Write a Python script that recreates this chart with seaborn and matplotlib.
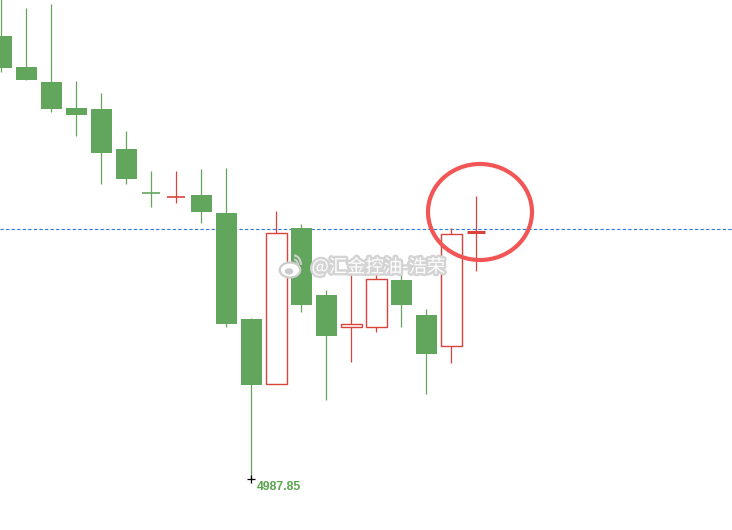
import numpy as np
import pandas as pd
import matplotlib
matplotlib.use('Agg')
import matplotlib.pyplot as plt
import matplotlib.patheffects as pe
from matplotlib.patches import Ellipse, Arc
import seaborn as sns

# OHLC (price units, last 20 bars)
opens = [5209.35, 5193.85, 5186.35, 5173.35, 5172.85, 5152.85, 5131.35, 5128.85, 5129.85, 5120.85,
         5067.85, 5035.35, 5113.35, 5079.85, 5063.85, 5063.85, 5087.35, 5069.85, 5054.35, 5111.35]
highs = [5232.35, 5223.35, 5225.35, 5186.85, 5180.85, 5161.85, 5141.85, 5141.85, 5142.85, 5143.35,
         5068.35, 5121.85, 5115.35, 5082.35, 5096.35, 5090.35, 5090.85, 5072.85, 5113.35, 5129.35]
lows = [5191.35, 5187.35, 5171.35, 5159.35, 5135.35, 5135.35, 5123.85, 5125.85, 5115.85, 5063.85,
        4987.85, 5035.35, 5071.35, 5027.35, 5046.35, 5061.35, 5063.85, 5030.35, 5045.85, 5091.85]
closes = [5193.35, 5187.35, 5172.85, 5169.85, 5150.85, 5137.85, 5130.35, 5129.35, 5121.35, 5065.35,
          5034.85, 5110.85, 5074.85, 5059.35, 5065.35, 5087.85, 5074.85, 5050.35, 5110.35, 5111.85]
last_price = 5112.85
low_label = "4987.85"
watermark = "@汇金控油-浩荣"

GREEN = '#62a65d'
RED = '#d9433b'

df = pd.DataFrame({'open': opens, 'high': highs, 'low': lows, 'close': closes})
df['i'] = np.arange(len(df))
df['up'] = df['close'] >= df['open']

sns.set_style('white')
plt.rcParams['font.family'] = ['Noto Sans CJK SC', 'DejaVu Sans']

fig = plt.figure(figsize=(7.32, 5.30), dpi=100)
ax = fig.add_axes([0, 0, 1, 1])
ax.set_xlim(-0.04, 29.24)
ax.set_ylim(4962.35, 5227.35)
ax.axis('off')

width = 0.84
lw = 0.9

# wicks
for _, r in df.iterrows():
    col = RED if r['up'] else GREEN
    ax.vlines(r['i'], r['low'], r['high'], color=col, linewidth=lw, zorder=2)

# bodies
for _, r in df.iterrows():
    top, bot = max(r['open'], r['close']), min(r['open'], r['close'])
    h = top - bot
    col = RED if r['up'] else GREEN
    if h < 1.2:
        lwd = 2.2 if r['i'] == len(df) - 1 else 1.2
        ax.hlines((top + bot) / 2, r['i'] - width / 2 + 0.05, r['i'] + width / 2 - 0.05,
                  color=col, linewidth=lwd, zorder=3)
    elif r['up']:
        ax.bar(r['i'], h, bottom=bot, width=width, facecolor='white', edgecolor=col,
               linewidth=1.0, zorder=3)
    else:
        ax.bar(r['i'], h, bottom=bot, width=width, color=col, linewidth=0, zorder=3)

# last price line
sns.lineplot(x=[-0.04, 29.24], y=[last_price, last_price], ax=ax, color='#2a7ae2',
             linewidth=0.8, linestyle=(0, (3, 2)), zorder=1)

# low marker and label
low_idx = int(np.argmin(lows))
ax.plot(low_idx, lows[low_idx], marker='+', color='black', markersize=6, markeredgewidth=0.9, zorder=4)
ax.text(low_idx + 0.22, lows[low_idx] - 4, low_label, color='#5aa64f', fontsize=8.8,
        fontweight='bold', family=['Liberation Sans', 'DejaVu Sans'], ha='left', va='center')

# highlight circle around last bar
ax.add_patch(Ellipse((19.16, 5121.35), 4.16, 48, fill=False, edgecolor='#f25555',
                     linewidth=3, zorder=5))

# watermark (weibo style)
wm_y = 5227.35 - 133.5
shadow = [pe.withStroke(linewidth=3.5, foreground='#d4d4d4')]
ax.text(12.42, wm_y, watermark, color='white', fontsize=13.2, ha='left', va='center',
        path_effects=shadow, zorder=6)
ax.add_patch(Ellipse((11.56, wm_y - 1.5), 0.82, 7.5, facecolor='white', edgecolor='#cccccc',
                     linewidth=1.6, zorder=6))
ax.add_patch(Ellipse((11.52, wm_y - 2.2), 0.34, 3.2, facecolor='#cccccc', edgecolor='none', zorder=7))
ax.add_patch(Arc((11.72, wm_y + 1.0), 0.56, 9.5, theta1=0, theta2=90, edgecolor='#cccccc',
                 linewidth=1.6, zorder=7))
ax.add_patch(Arc((11.72, wm_y + 1.0), 0.32, 5.5, theta1=0, theta2=90, edgecolor='#cccccc',
                 linewidth=1.6, zorder=7))

fig.savefig('out.png', dpi=100)
